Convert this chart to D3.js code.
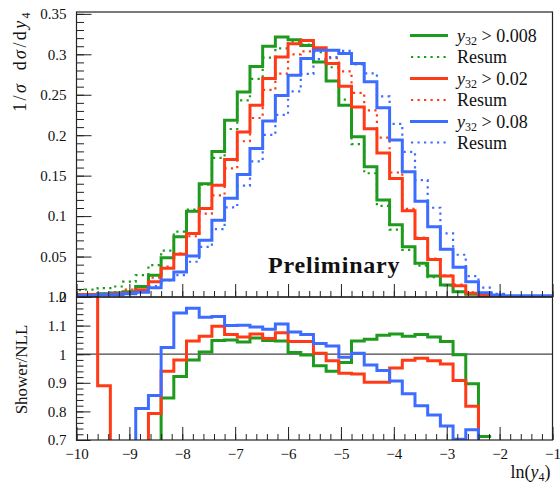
<!DOCTYPE html>
<html>
<head>
<meta charset="utf-8">
<script src="https://d3js.org/d3.v7.min.js"></script>
<style>
body { margin: 0; background: #fff; }
text { font-family: "Liberation Serif", "DejaVu Serif", serif; fill: #111; }
.frame { fill: none; stroke: #222; stroke-width: 1.2; }
.tick line { stroke: #222; stroke-width: 1; }
.hist { fill: none; stroke-width: 3; }
.resum { fill: none; stroke-width: 2.2; stroke-dasharray: 2.2, 4.3; }
</style>
</head>
<body>
<div id="chart"></div>
<script>
// bin edges in ln(y4), 0.24 wide
const binEdges = [-10.08, -9.84, -9.60, -9.36, -9.12, -8.88, -8.64, -8.40, -8.16, -7.92,
  -7.68, -7.44, -7.20, -6.96, -6.72, -6.48, -6.24, -6.00, -5.76, -5.52,
  -5.28, -5.04, -4.80, -4.56, -4.32, -4.08, -3.84, -3.60, -3.36, -3.12,
  -2.88, -2.64, -2.40, -2.16, -1.92, -1.68, -1.44, -1.20, -0.96];

// shower, y32 > 0.008 / 0.02 / 0.08
const showerG = [0.003, 0.003, 0.004, 0.005, 0.0065, 0.013, 0.027, 0.0486, 0.0745, 0.106,
  0.140, 0.180, 0.2185, 0.2535, 0.285, 0.310, 0.3214, 0.318, 0.311, 0.2905,
  0.267, 0.237, 0.198, 0.161, 0.120, 0.0893, 0.062, 0.0416, 0.026, 0.0148,
  0.0066, 0.0033, 0.001, 0, 0, 0, 0, 0];
const showerR = [0.003, 0.003, 0.0035, 0.004, 0.005, 0.009, 0.019, 0.0354, 0.053, 0.0786,
  0.1095, 0.138, 0.170, 0.204, 0.237, 0.270, 0.2967, 0.313, 0.317, 0.308,
  0.2885, 0.2605, 0.235, 0.208, 0.178, 0.1465, 0.1066, 0.0724, 0.0465, 0.026,
  0.014, 0.0046, 0.0025, 0, 0, 0, 0, 0];
const showerB = [0.002, 0.002, 0.003, 0.003, 0.004, 0.006, 0.0115, 0.021, 0.031, 0.0506,
  0.070, 0.095, 0.122, 0.1515, 0.1835, 0.2177, 0.249, 0.274, 0.2947, 0.305,
  0.305, 0.301, 0.2885, 0.266, 0.234, 0.194, 0.1547, 0.1185, 0.0868, 0.0589,
  0.0367, 0.0189, 0.0053, 0.0025, 0.0016, 0.0016, 0.0016, 0.0016];

// NLL resummation
const resumG = [0.0085, 0.009, 0.011, 0.013, 0.019, 0.027, 0.0395, 0.0574, 0.0808, 0.108,
  0.139, 0.172, 0.2077, 0.243, 0.2696, 0.2958, 0.3073, 0.316, 0.312, 0.3026,
  0.284, 0.244, 0.189, 0.153, 0.1126, 0.0834, 0.0583, 0.0389, 0.0245, 0.0142,
  0.0066, 0.0037, 0.0014, 0, 0, 0, 0, 0];
const resumR = [0.0015, 0.0018, 0.0039, 0.006, 0.009, 0.013, 0.024, 0.0377, 0.054, 0.0751,
  0.103, 0.1257, 0.159, 0.1925, 0.2213, 0.256, 0.276, 0.2998, 0.3036, 0.307,
  0.2953, 0.279, 0.2524, 0.2306, 0.197, 0.1539, 0.1089, 0.0734, 0.0476, 0.0269,
  0.0154, 0.0056, 0.004, 0.001, 0, 0, 0, 0];
const resumB = [0.003, 0.003, 0.004, 0.005, 0.006, 0.0074, 0.0134, 0.0205, 0.0271, 0.0436,
  0.062, 0.0839, 0.1109, 0.1376, 0.1676, 0.2003, 0.2251, 0.2542, 0.2757, 0.2941,
  0.2964, 0.3043, 0.2876, 0.2765, 0.2481, 0.2141, 0.1795, 0.1445, 0.1103, 0.0786,
  0.0522, 0.0257, 0.0115, 0.004, 0.001, 0.001, 0.001, 0.001];

// Shower / NLL
const ratioG = [0.35, 0.33, 0.36, 0.38, 0.34, 0.48, 0.68, 0.847, 0.922, 0.98,
  1.008, 1.048, 1.050, 1.043, 1.057, 1.048, 1.046, 1.006, 0.997, 0.960,
  0.940, 0.971, 1.046, 1.052, 1.066, 1.071, 1.063, 1.069, 1.060, 1.044,
  0.998, 0.897, 0.712, null, null, null, null, null];
const ratioR = [2.0, 1.67, 0.89, 0.67, 0.56, 0.65, 0.793, 0.94, 0.98, 1.046,
  1.063, 1.098, 1.069, 1.060, 1.071, 1.055, 1.075, 1.044, 1.044, 1.003,
  0.977, 0.933, 0.931, 0.902, 0.902, 0.952, 0.979, 0.986, 0.977, 0.966,
  0.908, 0.818, 0.62, null, null, null, null, null];
const ratioB = [0.6, 0.62, 0.65, 0.6, 0.66, 0.81, 0.856, 1.023, 1.144, 1.161,
  1.129, 1.132, 1.100, 1.101, 1.095, 1.087, 1.106, 1.078, 1.069, 1.037,
  1.029, 0.989, 1.003, 0.962, 0.943, 0.906, 0.862, 0.820, 0.787, 0.749,
  0.703, 0.736, 0.46, null, null, null, null, null];

const cuts = ["0.008", "0.02", "0.08"];
const colors = ["#1e9a1e", "#ff3a17", "#3d6dff"];

const W = 560, H = 486;
const L = 76.5, R = 552.5, T = 12, MID = 297, B = 440;

const svg = d3.select("#chart").append("svg")
  .attr("width", W).attr("height", H);

const x = d3.scaleLinear().domain([-10, -1]).range([L, R]);
const yTop = d3.scaleLinear().domain([0, 0.3523]).range([MID, T]);
const yBot = d3.scaleLinear().domain([0.7, 1.2]).range([B, MID]);

const defs = svg.append("defs");
defs.append("clipPath").attr("id", "clipTop").append("rect")
  .attr("x", L).attr("y", T).attr("width", R - L).attr("height", MID - T);
defs.append("clipPath").attr("id", "clipBot").append("rect")
  .attr("x", L).attr("y", MID).attr("width", R - L).attr("height", B - MID);

// turn bin values into step points
function steps(vals) {
  const pts = [];
  vals.forEach(function(v, i) {
    pts.push({x: binEdges[i], v: v});
    pts.push({x: binEdges[i + 1], v: v});
  });
  return pts;
}

function histLine(yScale) {
  return d3.line()
    .defined(function(d) { return d.v != null; })
    .x(function(d) { return x(d.x); })
    .y(function(d) { return yScale(d.v); });
}

// ---- upper panel
const gTop = svg.append("g").attr("clip-path", "url(#clipTop)");
const lineTop = histLine(yTop);
[resumG, resumR, resumB].forEach(function(s, k) {
  gTop.append("path").attr("class", "resum")
    .attr("stroke", colors[k]).attr("d", lineTop(steps(s)));
});
[showerG, showerR, showerB].forEach(function(s, k) {
  gTop.append("path").attr("class", "hist")
    .attr("stroke", colors[k]).attr("d", lineTop(steps(s)));
});

// ---- lower panel
const gBot = svg.append("g").attr("clip-path", "url(#clipBot)");
gBot.append("line")
  .attr("x1", L).attr("x2", R)
  .attr("y1", yBot(1)).attr("y2", yBot(1))
  .attr("stroke", "#444").attr("stroke-width", 1.2);
const lineBot = histLine(yBot);
[ratioG, ratioR, ratioB].forEach(function(s, k) {
  gBot.append("path").attr("class", "hist")
    .attr("stroke", colors[k]).attr("d", lineBot(steps(s)));
});

// ---- axes (ROOT style, ticks inside)
const xMajor = d3.range(-10, -0.99, 1);
const xMinor = d3.range(-10, -0.99, 0.2);

function xTicks(yPos, major, minor, labels) {
  svg.append("g").attr("transform", "translate(0," + yPos + ")")
    .call(d3.axisBottom(x).tickValues(xMinor).tickSize(-minor).tickFormat(""))
    .call(function(g) { g.select(".domain").remove(); });
  const g = svg.append("g").attr("transform", "translate(0," + yPos + ")")
    .call(d3.axisBottom(x).tickValues(xMajor).tickSize(-major).tickPadding(8)
      .tickFormat(labels ? function(d) { return d3.format("d")(d); } : ""));
  g.select(".domain").remove();
  g.selectAll("text").attr("font-size", 15).style("font-family", "Liberation Serif");
}
xTicks(MID, 13, 6, false);
xTicks(B, 13, 6, true);

function yTicks(scale, majors, minors, major, minor, fmt) {
  svg.append("g").attr("transform", "translate(" + L + ",0)")
    .call(d3.axisLeft(scale).tickValues(minors).tickSize(-minor).tickFormat(""))
    .call(function(g) { g.select(".domain").remove(); });
  const g = svg.append("g").attr("transform", "translate(" + L + ",0)")
    .call(d3.axisLeft(scale).tickValues(majors).tickSize(-major).tickPadding(10).tickFormat(fmt));
  g.select(".domain").remove();
  g.selectAll("text").attr("font-size", 15).style("font-family", "Liberation Serif");
}
const fmtNum = function(d) { return String(+d.toFixed(2)); };
yTicks(yTop, d3.range(0, 0.351, 0.05), d3.range(0, 0.351, 0.01), 15, 7.5, fmtNum);
yTicks(yBot, d3.range(0.7, 1.201, 0.1), d3.range(0.7, 1.201, 0.02), 14, 7, fmtNum);

svg.append("rect").attr("class", "frame")
  .attr("x", L).attr("y", T).attr("width", R - L).attr("height", MID - T);
svg.append("rect").attr("class", "frame")
  .attr("x", L).attr("y", MID).attr("width", R - L).attr("height", B - MID);

// ---- titles
const yt = svg.append("text")
  .attr("transform", "translate(26," + (T - 2) + ") rotate(-90)")
  .attr("text-anchor", "end").attr("font-size", 18)
  .attr("letter-spacing", 2.4);
yt.append("tspan").text("1/");
yt.append("tspan").attr("font-style", "italic").text("σ");
yt.append("tspan").text("\u2002d");
yt.append("tspan").attr("font-style", "italic").text("σ");
yt.append("tspan").text("/d");
yt.append("tspan").attr("font-style", "italic").text("y");
yt.append("tspan").attr("font-size", 12).attr("dy", 3.5).text("4");

svg.append("text")
  .attr("transform", "translate(27," + ((MID + B) / 2 + 1) + ") rotate(-90)")
  .attr("text-anchor", "middle").attr("font-size", 17)
  .text("Shower/NLL");

const xt = svg.append("text")
  .attr("x", R - 2).attr("y", 478)
  .attr("text-anchor", "end").attr("font-size", 18);
xt.append("tspan").text("ln(");
xt.append("tspan").attr("font-style", "italic").text("y");
xt.append("tspan").attr("font-size", 12).attr("dy", 3).text("4");
xt.append("tspan").attr("dy", -3).text(")");

svg.append("text")
  .attr("x", 268).attr("y", 273)
  .attr("font-size", 24).attr("font-weight", "bold")
  .attr("letter-spacing", 0.8)
  .text("Preliminary");

// ---- legend
const legY = [35.5, 57, 78.5, 100, 121.5, 142.5];
cuts.forEach(function(c, k) {
  const y1 = legY[2 * k], y2 = legY[2 * k + 1];
  svg.append("line").attr("class", "hist").attr("stroke", colors[k])
    .attr("x1", 410).attr("x2", 448).attr("y1", y1).attr("y2", y1);
  svg.append("line").attr("class", "resum").attr("stroke", colors[k])
    .attr("x1", 411).attr("x2", 448).attr("y1", y2).attr("y2", y2);
  const t = svg.append("text").attr("x", 457).attr("y", y1 + 6).attr("font-size", 18);
  t.append("tspan").attr("font-style", "italic").text("y");
  t.append("tspan").attr("font-size", 12).attr("dy", 3).text("32");
  t.append("tspan").attr("dy", -3).text(" > " + c);
  svg.append("text").attr("x", 457).attr("y", y2 + 6).attr("font-size", 18).text("Resum");
});
</script>
</body>
</html>
